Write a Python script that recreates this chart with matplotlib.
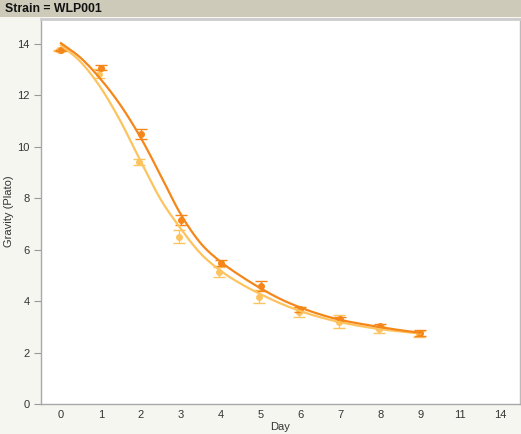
import numpy as np
import matplotlib
matplotlib.use("Agg")
import matplotlib.pyplot as plt

plt.rcParams["font.family"] = ["Liberation Sans", "DejaVu Sans"]

# category positions on the x axis
day_labels = ["0", "1", "2", "3", "4", "5", "6", "7", "8", "9", "11", "14"]

# measured means and error half-widths
days = [0, 1, 2, 3, 4, 5, 6, 7, 8, 9]
dark_mean = [13.75, 13.07, 10.51, 7.16, 5.47, 4.60, 3.68, 3.31, 3.03, 2.76]
dark_err = [0.03, 0.10, 0.20, 0.20, 0.12, 0.19, 0.10, 0.08, 0.08, 0.12]
light_mean = [13.75, 12.85, 9.41, 6.50, 5.13, 4.17, 3.58, 3.20, 2.90, 2.72]
light_err = [0.03, 0.18, 0.11, 0.25, 0.20, 0.25, 0.19, 0.26, 0.15, 0.12]

# fitted curves
curve_days = [0, 0.5, 1, 1.5, 2, 2.5, 3, 3.5, 4, 4.5, 5, 5.5, 6, 6.5, 7, 7.5, 8, 8.5, 9]
dark_curve = [14.03, 13.45, 12.62, 11.6, 10.35, 8.88, 7.38, 6.25, 5.53, 4.98, 4.5,
              4.08, 3.75, 3.48, 3.27, 3.12, 2.99, 2.87, 2.77]
light_curve = [13.95, 13.29, 12.29, 10.97, 9.43, 7.95, 6.82, 5.85, 5.18, 4.68, 4.27,
               3.91, 3.61, 3.37, 3.18, 3.03, 2.91, 2.82, 2.74]

dark_c = "#f5861a"
light_c = "#fdc35f"


def smooth(xs, ys, n=12):
    # catmull-rom through the read points, just for drawing
    xs = np.asarray(xs, float)
    ys = np.asarray(ys, float)
    px = np.concatenate([[2 * xs[0] - xs[1]], xs, [2 * xs[-1] - xs[-2]]])
    py = np.concatenate([[2 * ys[0] - ys[1]], ys, [2 * ys[-1] - ys[-2]]])
    outx, outy = [], []
    t = np.linspace(0, 1, n, endpoint=False)
    for i in range(1, len(px) - 2):
        for p, out in ((px, outx), (py, outy)):
            p0, p1, p2, p3 = p[i - 1], p[i], p[i + 1], p[i + 2]
            out.extend(0.5 * (2 * p1 + (-p0 + p2) * t
                              + (2 * p0 - 5 * p1 + 4 * p2 - p3) * t ** 2
                              + (-p0 + 3 * p1 - 3 * p2 + p3) * t ** 3))
    outx.append(xs[-1])
    outy.append(ys[-1])
    return np.array(outx), np.array(outy)


fig = plt.figure(figsize=(5.21, 4.34), dpi=100)
fig.patch.set_facecolor("#f6f6f1")

# header band
fig.patches.append(plt.Rectangle((0, 1 - 17 / 434), 1, 17 / 434, transform=fig.transFigure,
                                 facecolor="#cdcaba", edgecolor="none", zorder=0))
fig.text(5 / 521, 1 - 8.5 / 434, "Strain = WLP001", fontsize=8.8, fontweight="bold",
         va="center", ha="left", color="#111111")

ax = fig.add_axes([41 / 521, 30 / 434, 479 / 521, 385 / 434])
ax.set_facecolor("white")

x = np.array(days)
ax.errorbar(x - 0.04, light_mean, yerr=light_err, fmt="o", color=light_c, ms=4,
            capsize=4.5, elinewidth=1, capthick=1, zorder=3)
ax.errorbar(x, dark_mean, yerr=dark_err, fmt="o", color=dark_c, ms=4,
            capsize=4.5, elinewidth=1, capthick=1, zorder=4)

lx, ly = smooth(curve_days, light_curve)
dx, dy = smooth(curve_days, dark_curve)
ax.plot(lx, ly, color=light_c, lw=1.6, zorder=5)
ax.plot(dx, dy, color=dark_c, lw=1.6, zorder=6)

ax.set_xlim(-0.5, 11.5)
ax.set_ylim(0, 14.97)
ax.set_xticks(range(len(day_labels)))
ax.set_xticklabels(day_labels)
ax.set_yticks([0, 2, 4, 6, 8, 10, 12, 14])
ax.tick_params(axis="both", labelsize=8, colors="#333333", length=5, width=0.8,
               color="#999999", pad=3)
ax.tick_params(axis="x", length=0, pad=4)

for side in ["left", "bottom"]:
    ax.spines[side].set_color("#a8a8a8")
    ax.spines[side].set_linewidth(1)
ax.spines["top"].set_color("#cccccc")
ax.spines["top"].set_linewidth(2)
ax.spines["right"].set_color("#bbbbbb")
ax.spines["right"].set_linewidth(1)

ax.set_xlabel("Day", fontsize=8, color="#333333", labelpad=2)
fig.text(9 / 521, 1 - 211 / 434, "Gravity (Plato)", fontsize=8, color="#333333",
         rotation=90, ha="center", va="center")

fig.savefig("out.png", dpi=100, facecolor=fig.get_facecolor())
